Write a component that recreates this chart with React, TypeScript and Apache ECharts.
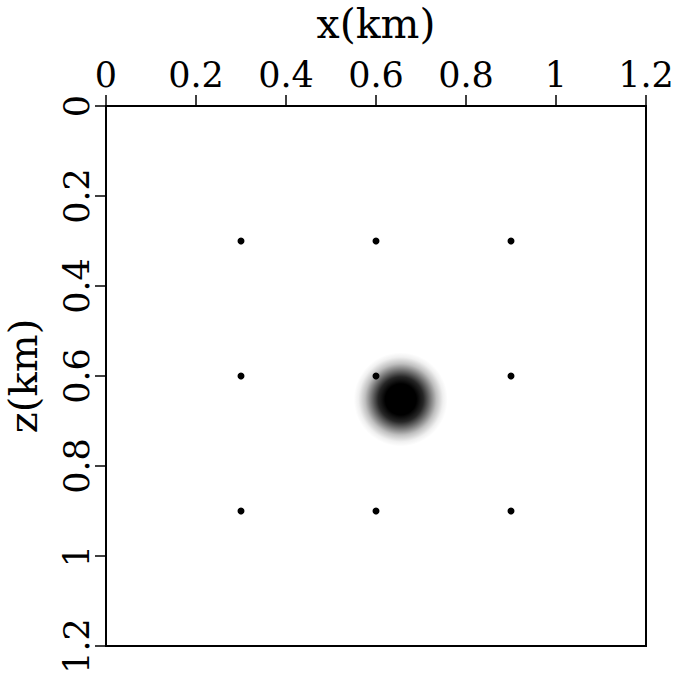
import React, { useEffect, useRef } from "react";
import * as echarts from "echarts";

const xTitle = "x(km)";
const zTitle = "z(km)";
const axisMin = 0;
const axisMax = 1.2;
const axisStep = 0.2;
const receiverX = [0.3, 0.6, 0.9];
const receiverZ = [0.3, 0.6, 0.9];
const blobCenter = [0.655, 0.652];

const FONT = "DejaVu Serif";

export default function App() {
  const ref = useRef<HTMLDivElement>(null);
  useEffect(() => {
    if (!ref.current) return;
    const chart = echarts.init(ref.current, null, { renderer: "svg" });
    const points: number[][] = [];
    for (const z of receiverZ) for (const x of receiverX) points.push([x, z]);
    const labelStyle = { color: "#000", fontFamily: FONT, fontSize: 35 };
    chart.setOption({
      animation: false,
      backgroundColor: "#fff",
      grid: {
        left: 106, top: 106, width: 540, height: 540,
        containLabel: false, outerBoundsMode: "none",
        show: true, borderColor: "#000", borderWidth: 2, backgroundColor: "transparent",
      },
      graphic: [
        {
          type: "text",
          x: 23,
          y: 376,
          rotation: Math.PI / 2,
          style: {
            text: zTitle,
            fill: "#000",
            font: `40px "${FONT}"`,
            align: "center",
            verticalAlign: "middle",
          },
        },
      ],
      xAxis: [
        {
          type: "value",
          position: "top",
          min: axisMin,
          max: axisMax,
          interval: axisStep,
          name: xTitle,
          nameLocation: "middle",
          nameGap: 62,
          nameTextStyle: { color: "#000", fontFamily: FONT, fontSize: 41 },
          axisLine: { show: true, lineStyle: { color: "#000", width: 2 } },
          axisTick: { show: true, inside: false, length: 11, lineStyle: { color: "#000", width: 1.5 } },
          axisLabel: { ...labelStyle, margin: 14, showMaxLabel: true, showMinLabel: true },
          splitLine: { show: false },
        },
      ],
      yAxis: [
        {
          type: "value",
          position: "left",
          inverse: true,
          min: axisMin,
          max: axisMax,
          interval: axisStep,
          axisLine: { show: true, lineStyle: { color: "#000", width: 2 } },
          axisTick: { show: true, inside: false, length: 11, lineStyle: { color: "#000", width: 1.5 } },
          axisLabel: { ...labelStyle, rotate: 90, margin: 12, showMaxLabel: true, showMinLabel: true },
          splitLine: { show: false },
        },
      ],
      series: [
        {
          type: "scatter",
          data: [blobCenter],
          symbol: "circle",
          symbolSize: 94,
          silent: true,
          itemStyle: {
            opacity: 1,
            color: new echarts.graphic.RadialGradient(0.5, 0.5, 0.5, [
              { offset: 0, color: "rgba(0,0,0,1)" },
              { offset: 0.33, color: "rgba(0,0,0,1)" },
              { offset: 0.48, color: "rgba(0,0,0,0.85)" },
              { offset: 0.62, color: "rgba(0,0,0,0.55)" },
              { offset: 0.76, color: "rgba(0,0,0,0.25)" },
              { offset: 0.9, color: "rgba(0,0,0,0.06)" },
              { offset: 1, color: "rgba(0,0,0,0)" },
            ]),
          },
        },
        {
          type: "scatter",
          data: points,
          symbol: "circle",
          symbolSize: 7,
          itemStyle: { color: "#000", opacity: 1 },
        },
      ],
    });
    return () => chart.dispose();
  }, []);
  return <div ref={ref} style={{ position: "fixed", left: 0, top: 0, width: 677, height: 674 }} />;
}
